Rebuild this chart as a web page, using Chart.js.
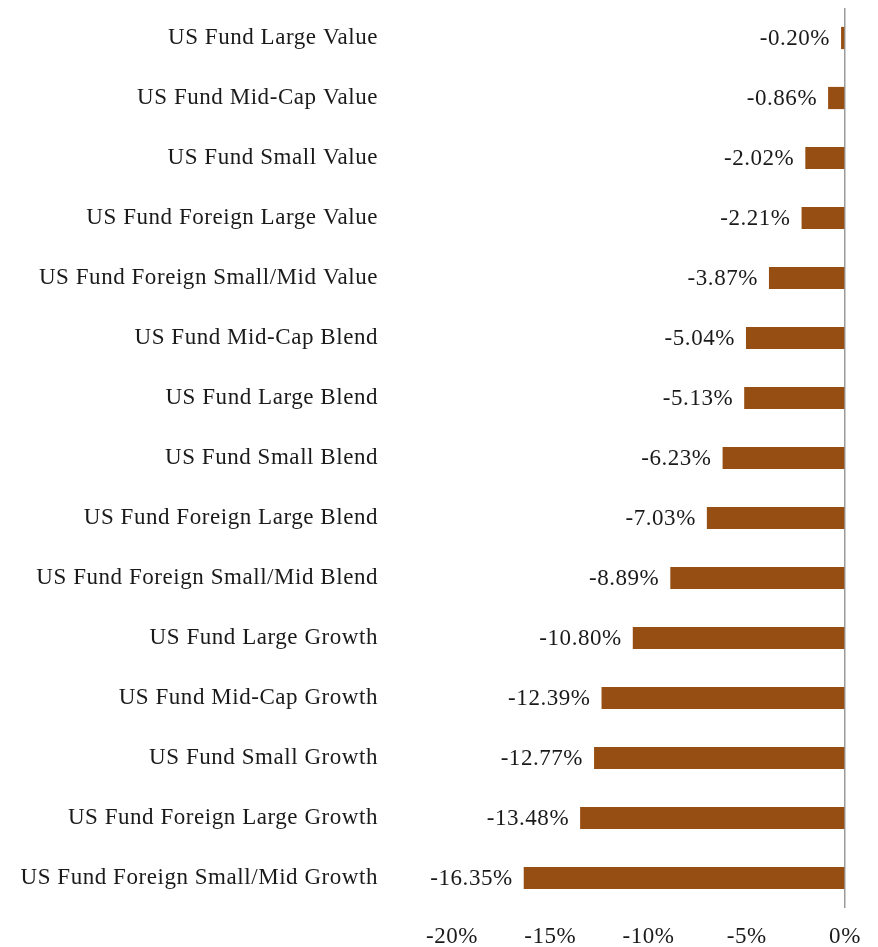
<!DOCTYPE html>
<html><head><meta charset="utf-8">
<script src="https://cdn.jsdelivr.net/npm/chart.js@4"></script>
<style>html,body{margin:0;padding:0;background:#fff;}canvas{display:block;}</style>
</head><body>
<canvas id="c" width="878" height="947"></canvas>
<script>
const categories = [
  "US Fund Large Value","US Fund Mid-Cap Value","US Fund Small Value","US Fund Foreign Large Value",
  "US Fund Foreign Small/Mid Value","US Fund Mid-Cap Blend","US Fund Large Blend","US Fund Small Blend",
  "US Fund Foreign Large Blend","US Fund Foreign Small/Mid Blend","US Fund Large Growth","US Fund Mid-Cap Growth",
  "US Fund Small Growth","US Fund Foreign Large Growth","US Fund Foreign Small/Mid Growth"
];
const returns = [-0.20,-0.86,-2.02,-2.21,-3.87,-5.04,-5.13,-6.23,-7.03,-8.89,-10.80,-12.39,-12.77,-13.48,-16.35];
const xTicks = [-20,-15,-10,-5,0];

const FONT = "'Liberation Serif', 'Times New Roman', serif";
const FSIZE = 23;
const SPACING = '0.55px';
const TXT = '#1a1a1a';

const spacingPlugin = {
  id: 'spacing',
  beforeUpdate(chart) { chart.ctx.letterSpacing = SPACING; },
  beforeLayout(chart) { chart.ctx.letterSpacing = SPACING; },
  beforeDraw(chart) { chart.ctx.letterSpacing = SPACING; }
};

const labelPlugin = {
  id: 'barLabels',
  afterDatasetsDraw(chart) {
    const ctx = chart.ctx;
    const meta = chart.getDatasetMeta(0);
    ctx.save();
    ctx.letterSpacing = SPACING;
    ctx.font = FSIZE + 'px ' + FONT;
    ctx.fillStyle = TXT;
    ctx.textAlign = 'right';
    ctx.textBaseline = 'middle';
    meta.data.forEach((bar, i) => {
      ctx.fillText(returns[i].toFixed(2) + '%', bar.x - 11, bar.y + 1);
    });
    ctx.restore();
  }
};

new Chart(document.getElementById('c'), {
  type: 'bar',
  data: {
    labels: categories,
    datasets: [{
      data: returns,
      backgroundColor: '#974E12',
      borderWidth: 0,
      barPercentage: 0.37,
      categoryPercentage: 1.0
    }]
  },
  options: {
    indexAxis: 'y',
    responsive: false,
    animation: false,
    devicePixelRatio: 1,
    layout: { padding: { top: 8, right: 33, bottom: 0, left: 0 } },
    plugins: { legend: { display: false }, tooltip: { enabled: false } },
    scales: {
      x: {
        min: -20, max: 0,
        afterBuildTicks(axis) { axis.ticks = xTicks.map(v => ({ value: v })); },
        afterFit(axis) { axis.height = 39; axis.paddingLeft = 0; axis.paddingRight = 0; },
        ticks: {
          callback: v => v + '%',
          font: { family: FONT, size: FSIZE },
          color: TXT,
          padding: 15,
          maxRotation: 0
        },
        grid: {
          drawTicks: false,
          color: ctx => (ctx.tick && ctx.tick.value === 0) ? '#9a9a9a' : 'rgba(0,0,0,0)',
          lineWidth: 1.5
        },
        border: { display: false }
      },
      y: {
        afterFit(axis) { axis.width = 452; axis.paddingTop = 0; axis.paddingBottom = 0; },
        ticks: {
          font: { family: FONT, size: FSIZE },
          color: TXT,
          padding: 74,
          autoSkip: false
        },
        grid: { display: false, drawTicks: false },
        border: { display: false }
      }
    }
  },
  plugins: [spacingPlugin, labelPlugin]
});
</script>
</body></html>
